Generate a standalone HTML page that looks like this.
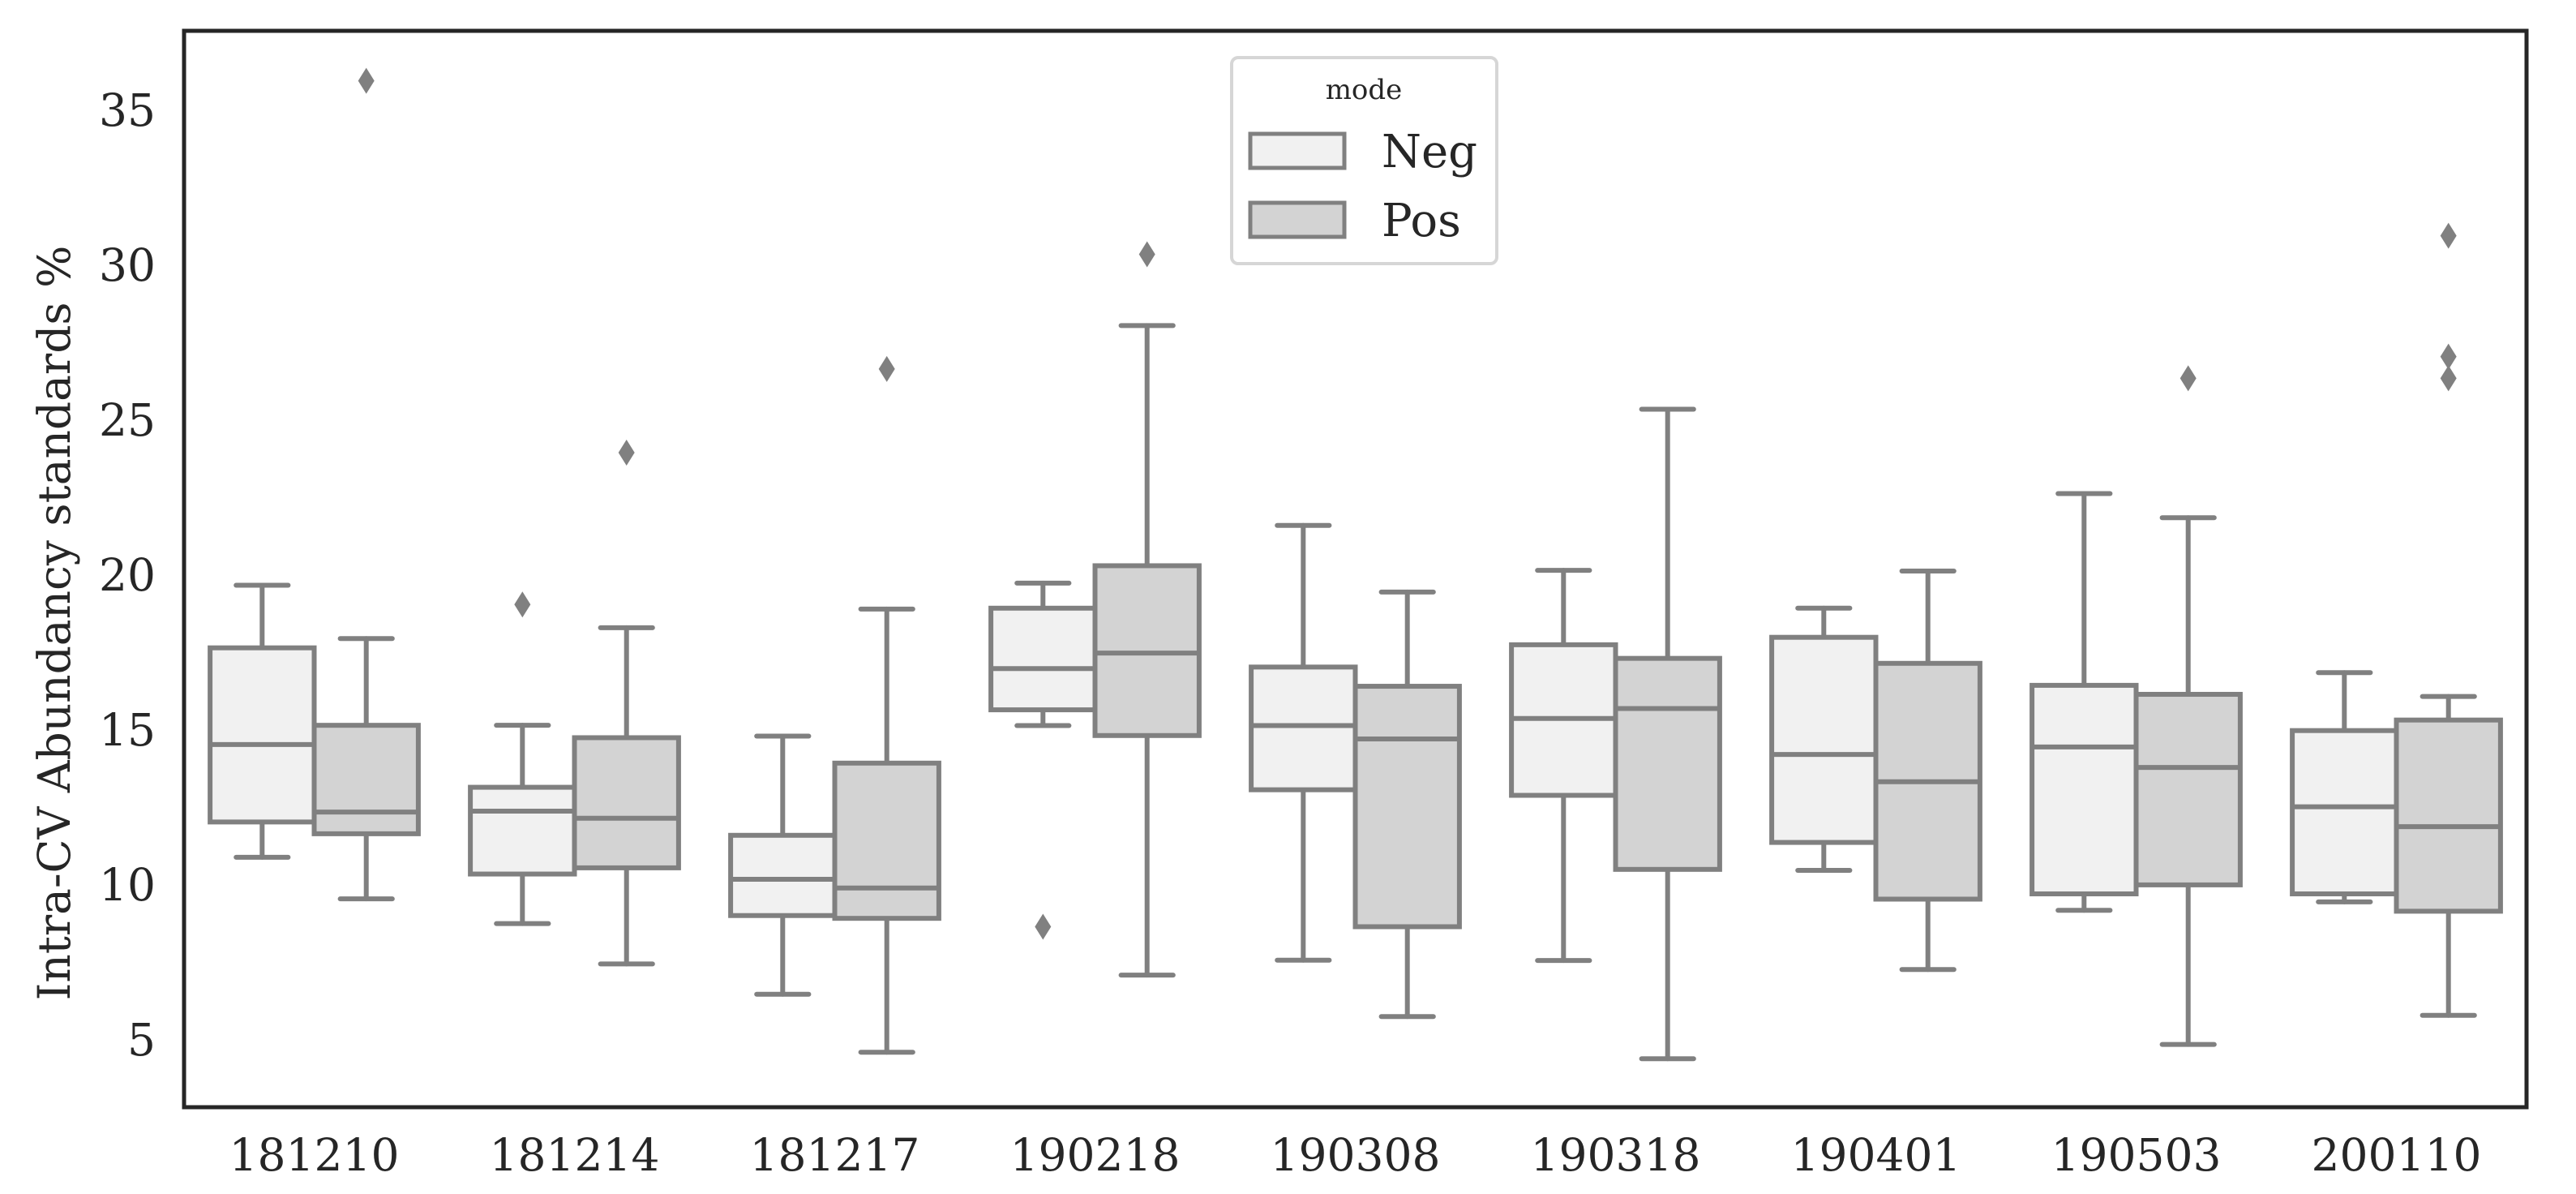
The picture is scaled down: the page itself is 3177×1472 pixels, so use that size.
<!DOCTYPE html>
<html><head><meta charset="utf-8"><style>
html,body{margin:0;padding:0;background:#fff;}
svg{display:block;}
text{font-family:"DejaVu Serif","Liberation Serif",serif;fill:#262626;}
</style></head><body>
<svg id="chart" width="3177" height="1472" viewBox="0 0 3177 1472" xmlns="http://www.w3.org/2000/svg">
<rect x="0" y="0" width="3177" height="1472" fill="#fff"/>
<g id="plot"></g>
<rect x="227" y="38" width="2889" height="1327" fill="none" stroke="#262626" stroke-width="5"/>
<text transform="translate(86,768) rotate(-90)" text-anchor="middle" font-size="55">Intra-CV Abundancy standards %</text>
<g>
<rect x="1519" y="71" width="327" height="254" rx="8" fill="#fff" stroke="#d6d6d6" stroke-width="4"/>
<text x="1682" y="122" text-anchor="middle" font-size="34">mode</text>
<rect x="1542" y="165" width="116" height="42" fill="#f1f1f1" stroke="#808080" stroke-width="5"/>
<text x="1704" y="206" font-size="56">Neg</text>
<rect x="1542" y="250" width="116" height="42" fill="#d3d3d3" stroke="#808080" stroke-width="5"/>
<text x="1704" y="291" font-size="56">Pos</text>
</g>
</svg>
<script>
const categories=["181210","181214","181217","190218","190308","190318","190401","190503","200110"];
const yTicks=[5,10,15,20,25,30,35];
// [low whisker, Q1, median, Q3, high whisker]
const negStats=[
[10.84,11.98,14.48,17.6,19.62],
[8.7,10.3,12.33,13.1,15.1],
[6.42,8.96,10.13,11.55,14.75],
[15.09,15.6,16.93,18.88,19.69],
[7.52,13.02,15.09,16.98,21.55],
[7.51,12.84,15.32,17.7,20.1],
[10.42,11.32,14.16,17.94,18.88],
[9.13,9.66,14.4,16.39,22.58],
[9.4,9.66,12.47,14.93,16.8]];
const posStats=[
[9.5,11.6,12.3,15.1,17.9],
[7.4,10.5,12.1,14.7,18.25],
[4.55,8.87,9.85,13.88,18.85],
[7.04,14.77,17.43,20.25,28.0],
[5.7,8.6,14.66,16.36,19.4],
[4.34,10.45,15.64,17.26,25.3],
[7.22,9.49,13.28,17.1,20.08],
[4.8,9.95,13.74,16.1,21.8],
[5.74,9.1,11.83,15.27,16.03]];
const negOutliers=[[],[19.0],[],[8.6],[],[],[],[],[]];
const posOutliers=[[35.9],[23.9],[26.6],[30.3],[],[],[],[26.3],[30.9,27.0,26.3]];

const X0=227,X1=3116,Y0=38,Y1=1365;
const bandW=(X1-X0)/categories.length;
function xCenter(i){return X0+bandW*(i+0.5);}
function yScale(v){return 1280-(v-5)*38.2;}
const NS="http://www.w3.org/2000/svg";
const svg=document.getElementById('chart');
const plot=document.getElementById('plot');
function mk(tag,attrs,parent){const e=document.createElementNS(NS,tag);for(const k in attrs)e.setAttribute(k,attrs[k]);(parent||plot).appendChild(e);return e;}

yTicks.forEach(t=>{
  const e=mk('text',{x:192,y:yScale(t)+21,'text-anchor':'end','font-size':55},svg);
  
  
  e.textContent=t;
});
categories.forEach((c,i)=>{
  const e=mk('text',{x:xCenter(i),y:1443,'text-anchor':'middle','font-size':55},svg);
  
  
  e.textContent=c;
});
const boxW=bandW*0.4;
function drawBox(i,s,outs,side,fill,name){
  const cx=xCenter(i)+(side<0?-boxW/2:boxW/2);
  const g=mk('g',{});
  
  
  const st={stroke:'#808080','stroke-width':6,'stroke-linecap':'round'};
  mk('line',Object.assign({x1:cx,x2:cx,y1:yScale(s[3]),y2:yScale(s[4])},st),g);
  mk('line',Object.assign({x1:cx,x2:cx,y1:yScale(s[1]),y2:yScale(s[0])},st),g);
  mk('line',Object.assign({x1:cx-boxW/4,x2:cx+boxW/4,y1:yScale(s[4]),y2:yScale(s[4])},st),g);
  mk('line',Object.assign({x1:cx-boxW/4,x2:cx+boxW/4,y1:yScale(s[0]),y2:yScale(s[0])},st),g);
  mk('rect',{x:cx-boxW/2,y:yScale(s[3]),width:boxW,height:yScale(s[1])-yScale(s[3]),fill:fill,stroke:'#808080','stroke-width':6},g);
  mk('line',{x1:cx-boxW/2,x2:cx+boxW/2,y1:yScale(s[2]),y2:yScale(s[2]),stroke:'#808080','stroke-width':6},g);
  outs.forEach(v=>{
    const y=yScale(v);
    const d=mk('polygon',{points:`${cx},${y-16} ${cx+10},${y} ${cx},${y+16} ${cx-10},${y}`,fill:'#808080'},g);
    
    
  });
}
categories.forEach((c,i)=>{
  drawBox(i,negStats[i],negOutliers[i],-1,'#f1f1f1','box-neg');
  drawBox(i,posStats[i],posOutliers[i],1,'#d3d3d3','box-pos');
});
</script>
</body></html>
